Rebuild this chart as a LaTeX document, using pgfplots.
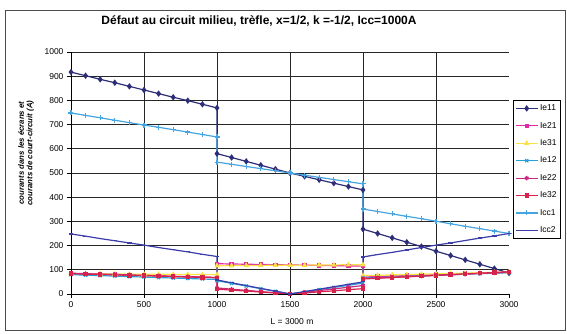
\documentclass[border=0pt]{standalone}
\usepackage{pgfplots}
\pgfplotsset{compat=1.18}
\usepackage{fontspec}
\setmainfont{Liberation Sans}
\definecolor{cIe11}{RGB}{45,45,120}
\definecolor{cIe21}{RGB}{225,40,165}
\definecolor{cIe31}{RGB}{250,225,70}
\definecolor{cIe12}{RGB}{40,160,215}
\definecolor{cIe22}{RGB}{200,40,130}
\definecolor{cIe32}{RGB}{215,35,75}
\definecolor{cIcc1}{RGB}{70,165,225}
\definecolor{cIcc2}{RGB}{60,60,170}
\begin{document}
\begin{tikzpicture}[x=1pt,y=1pt]
\useasboundingbox (-71,-40) rectangle (496,294);
\draw[black!70, line width=0.8pt] (-66,-36) rectangle (494,284);
\node[font=\bfseries\fontsize{12}{14}\selectfont] at (188,273) {Défaut au circuit milieu, trèfle, x=1/2, k =-1/2, Icc=1000A};
\node[font=\bfseries\itshape\fontsize{7.8}{8.5}\selectfont, rotate=90, align=center] at (-45,141) {courants dans les écrans et\\courants de court-circuit (A)};
\node[font=\fontsize{8.5}{10}\selectfont] at (221,-28) {L = 3000 m};
\begin{axis}[
  at={(0,0)}, anchor=south west,
  scale only axis, width=438pt, height=242pt,
  xmin=0, xmax=3000, ymin=0, ymax=1000,
  xtick={0,500,1000,1500,2000,2500},
  extra x ticks={3000}, extra x tick style={grid=none},
  ytick={0,100,...,1000},
  grid=major,
  major grid style={black!85, line width=0.7pt},
  axis x line*=bottom, axis y line*=left,
  axis line style={-, black, line width=0.7pt},
  tick align=outside, major tick length=4pt,
  tick style={black, line width=0.7pt},
  tick label style={font=\fontsize{8.5}{10}\selectfont},
  /pgf/number format/assume math mode=true,
  /pgf/number format/1000 sep={},
  legend cell align=left,
  legend image code/.code={\draw[mark repeat=2,mark phase=2] plot coordinates {(0cm,0cm) (0.38cm,0cm) (0.76cm,0cm)};},
  legend style={at={(1.009,0.80)}, anchor=north west, draw=black, line width=0.7pt,
     font=\fontsize{8.5}{10}\selectfont, row sep=6pt, inner sep=2pt},
  every axis plot/.append style={line width=1.2pt, mark size=1.8pt},
]
\addplot[color=cIe11, mark=diamond*, mark size=2.3pt] coordinates {
(0,917)(100,902)(200,887)(300,873)(400,858)(500,843)(600,828)(700,813)(800,799)(900,784)(1000,769)
(1000,580)(1100,564)(1200,548)(1300,532)(1400,516)(1500,500)(1600,486)(1700,472)(1800,458)(1900,444)(2000,430)
(2000,268)(2100,250)(2200,232)(2300,214)(2400,196)(2500,177)(2600,159)(2700,141)(2800,123)(2900,105)(3000,87)};
\addlegendentry{Ie11}
\addplot[color=cIe21, mark=square*, mark size=1.6pt] coordinates {
(0,85)(100,83)(200,82)(300,80)(400,78)(500,77)(600,75)(700,73)(800,71)(900,70)(1000,68)
(1000,125)(1100,124)(1200,123)(1300,122)(1400,121)(1500,120)(1600,119)(1700,118)(1800,117)(1900,116)(2000,115)
(2000,70)(2100,72)(2200,74)(2300,76)(2400,78)(2500,80)(2600,82)(2700,84)(2800,86)(2900,88)(3000,90)};
\addlegendentry{Ie21}
\addplot[color=cIe31, mark=triangle*, mark size=2pt] coordinates {
(0,84)(100,84)(200,83)(300,83)(400,82)(500,82)(600,82)(700,81)(800,81)(900,80)(1000,80)
(1000,117)(1100,117)(1200,118)(1300,118)(1400,119)(1500,119)(1600,119)(1700,120)(1800,120)(1900,121)(2000,121)
(2000,76)(2100,77)(2200,79)(2300,80)(2400,82)(2500,83)(2600,85)(2700,86)(2800,88)(2900,89)(3000,91)};
\addlegendentry{Ie31}
\addplot[color=cIe12, mark=x, mark size=2.2pt] coordinates {
(0,80)(100,78)(200,76)(300,74)(400,72)(500,70)(600,68)(700,66)(800,64)(900,62)(1000,60)
(1000,55)(1100,44)(1200,33)(1300,22)(1400,11)(1500,0)(1600,9)(1700,18)(1800,27)(1900,36)(2000,45)
(2000,66)(2100,68)(2200,70)(2300,73)(2400,75)(2500,77)(2600,79)(2700,82)(2800,84)(2900,86)(3000,88)};
\addlegendentry{Ie12}
\addplot[color=cIe22, mark=asterisk, mark size=2.2pt] coordinates {
(0,86)(100,84)(200,82)(300,81)(400,79)(500,77)(600,75)(700,73)(800,72)(900,70)(1000,68)
(1000,25)(1100,20)(1200,15)(1300,10)(1400,5)(1500,1)(1600,7)(1700,14)(1800,21)(1900,28)(2000,35)
(2000,64)(2100,67)(2200,69)(2300,72)(2400,74)(2500,77)(2600,80)(2700,82)(2800,85)(2900,87)(3000,90)};
\addlegendentry{Ie22}
\addplot[color=cIe32, mark=square*, mark size=1.6pt] coordinates {
(0,84)(100,82)(200,81)(300,79)(400,77)(500,76)(600,74)(700,72)(800,70)(900,69)(1000,67)
(1000,20)(1100,16)(1200,12)(1300,8)(1400,4)(1500,0)(1600,4)(1700,9)(1800,13)(1900,18)(2000,22)
(2000,62)(2100,65)(2200,68)(2300,71)(2400,74)(2500,77)(2600,80)(2700,83)(2800,86)(2900,89)(3000,92)};
\addlegendentry{Ie32}
\addplot[color=cIcc1, mark=+, mark size=2.5pt] coordinates {
(0,748)(100,738)(200,728)(300,718)(400,708)(500,698)(600,689)(700,679)(800,669)(900,659)(1000,649)
(1000,545)(1100,536)(1200,527)(1300,518)(1400,509)(1500,500)(1600,491)(1700,482)(1800,473)(1900,464)(2000,455)
(2000,351)(2100,341)(2200,331)(2300,321)(2400,311)(2500,301)(2600,290)(2700,280)(2800,270)(2900,260)(3000,250)};
\addlegendentry{Icc1}
\addplot[color=cIcc2, mark=-, mark size=2.2pt] coordinates {
(0,248)(100,239)(200,229)(300,220)(400,211)(500,202)(600,192)(700,183)(800,174)(900,164)(1000,155)
(1000,58)(1100,46)(1200,35)(1300,23)(1400,12)(1500,0)(1600,10)(1700,20)(1800,30)(1900,40)(2000,50)
(2000,153)(2100,163)(2200,172)(2300,182)(2400,192)(2500,202)(2600,211)(2700,221)(2800,231)(2900,240)(3000,250)};
\addlegendentry{Icc2}
\end{axis}
\end{tikzpicture}
\end{document}
